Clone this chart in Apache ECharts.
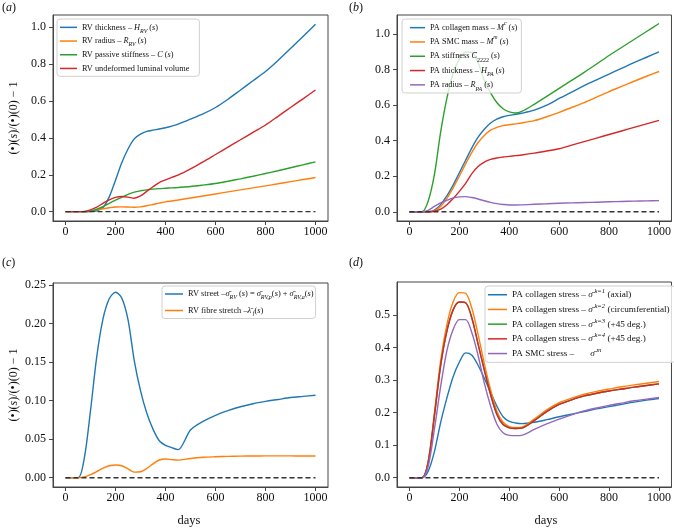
<!DOCTYPE html>
<html><head><meta charset="utf-8">
<script src="https://cdn.jsdelivr.net/npm/echarts@6/dist/echarts.min.js"></script>
<style>html,body{margin:0;padding:0;background:#fff}#c{width:674px;height:529px}</style>
</head><body><div id="c"></div>
<script>
// ---------- data ----------
const days = [0,50,75,100,125,150,175,200,225,250,275,300,325,350,375,400,425,450,500,550,600,650,700,750,800,850,900,950,1000];
const zeroLineX = [0,1000];
const xTicks = [0,200,400,600,800,1000];
const yTicksA = [0,0.2,0.4,0.6,0.8,1.0];
const yTicksB = [0,0.2,0.4,0.6,0.8,1.0];
const yTicksC = [0,0.05,0.1,0.15,0.2,0.25];
const yTicksD = [0,0.1,0.2,0.3,0.4,0.5];

// (a)
const aThickness = [0,0,0,0.001,0.005,0.022,0.08,0.17,0.265,0.34,0.395,0.42,0.435,0.442,0.448,0.455,0.464,0.475,0.502,0.53,0.565,0.61,0.66,0.71,0.76,0.82,0.885,0.95,1.016];
const aRadius    = [0,0,0,0.003,0.01,0.016,0.021,0.025,0.026,0.025,0.024,0.026,0.032,0.039,0.046,0.053,0.058,0.063,0.074,0.085,0.096,0.107,0.118,0.129,0.14,0.151,0.163,0.174,0.185];
const aStiffness = [0,0,0,0.003,0.013,0.027,0.045,0.062,0.078,0.094,0.106,0.113,0.118,0.122,0.125,0.127,0.129,0.131,0.136,0.144,0.153,0.165,0.178,0.192,0.207,0.222,0.238,0.254,0.27];
const aVolume    = [0,0,0.001,0.01,0.025,0.045,0.064,0.077,0.082,0.079,0.073,0.085,0.11,0.135,0.158,0.172,0.186,0.198,0.232,0.27,0.31,0.35,0.39,0.43,0.47,0.517,0.565,0.612,0.66];
// (b)
const bCollagen  = [0,0,0.001,0.01,0.04,0.09,0.15,0.22,0.29,0.36,0.42,0.465,0.5,0.522,0.535,0.543,0.549,0.555,0.572,0.6,0.638,0.674,0.71,0.743,0.775,0.808,0.84,0.87,0.9];
const bSMC       = [0,0,0,0.005,0.03,0.075,0.135,0.2,0.27,0.335,0.39,0.43,0.46,0.475,0.485,0.49,0.495,0.5,0.513,0.535,0.56,0.587,0.615,0.646,0.677,0.706,0.735,0.763,0.79];
const bStiffness = [0,0,0.06,0.21,0.45,0.64,0.78,0.86,0.9,0.898,0.84,0.74,0.67,0.615,0.58,0.562,0.556,0.565,0.605,0.65,0.695,0.74,0.785,0.832,0.88,0.925,0.97,1.015,1.06];
const bThickness = [0,0,0,0.003,0.015,0.04,0.075,0.115,0.16,0.215,0.255,0.28,0.295,0.303,0.308,0.312,0.316,0.32,0.33,0.342,0.355,0.375,0.395,0.415,0.435,0.455,0.475,0.495,0.515];
const bRadius    = [0,0,0.008,0.03,0.05,0.065,0.078,0.084,0.085,0.08,0.072,0.062,0.053,0.046,0.041,0.038,0.038,0.039,0.042,0.045,0.048,0.05,0.052,0.054,0.056,0.058,0.06,0.0615,0.063];
// (c)
const cStress    = [0,0,0.025,0.087,0.157,0.206,0.232,0.2405,0.233,0.205,0.152,0.113,0.084,0.063,0.048,0.042,0.039,0.0365,0.062,0.073,0.081,0.087,0.092,0.096,0.099,0.1015,0.104,0.1055,0.107];
const cStretch   = [0,0,0.001,0.004,0.008,0.0125,0.0155,0.0165,0.0155,0.0115,0.0073,0.0078,0.012,0.018,0.023,0.0243,0.0235,0.0228,0.025,0.0265,0.0272,0.0277,0.028,0.0282,0.0283,0.0283,0.0283,0.0282,0.0282];
// (d)
const dK1        = [0,0,0.02,0.08,0.17,0.245,0.31,0.355,0.383,0.376,0.345,0.305,0.262,0.22,0.187,0.173,0.168,0.166,0.17,0.178,0.187,0.195,0.203,0.211,0.218,0.225,0.232,0.238,0.243];
const dK2        = [0,0,0.05,0.2,0.36,0.47,0.54,0.568,0.566,0.52,0.44,0.35,0.27,0.205,0.17,0.157,0.154,0.155,0.18,0.208,0.23,0.244,0.256,0.265,0.272,0.279,0.285,0.29,0.295];
const dK3        = [0,0,0.048,0.19,0.345,0.45,0.515,0.539,0.537,0.49,0.41,0.33,0.255,0.195,0.163,0.153,0.151,0.152,0.175,0.203,0.225,0.239,0.251,0.259,0.266,0.272,0.278,0.283,0.288];
const dK4        = [0,0,0.048,0.19,0.345,0.45,0.515,0.539,0.537,0.49,0.41,0.33,0.255,0.195,0.163,0.153,0.151,0.152,0.175,0.203,0.225,0.239,0.251,0.259,0.266,0.272,0.278,0.283,0.288];
const dSMC       = [0,0,0.035,0.15,0.28,0.39,0.455,0.485,0.485,0.445,0.375,0.29,0.22,0.165,0.138,0.13,0.129,0.13,0.148,0.165,0.18,0.193,0.205,0.214,0.222,0.229,0.236,0.241,0.246];

// ---------- style ----------
const SERIF = '"Liberation Serif","DejaVu Serif",serif';
const TXT = '#111';
const AX = '#444';
const COL = {blue:'#1f77b4', orange:'#ff7f0e', green:'#2ca02c', red:'#d62728', purple:'#9467bd'};
const OB = 'σ\u0304', LB = 'λ\u0304', CB = 'C\u0304';

function richFor(fs, lh){
  return {
    i:{fontStyle:'italic', fontSize:fs, fontFamily:SERIF, color:TXT, lineHeight:lh},
    n:{fontSize:fs, fontFamily:SERIF, color:TXT, lineHeight:lh},
    sub:{fontStyle:'italic', fontSize:fs*0.72, fontFamily:SERIF, color:TXT, lineHeight:fs*0.95, verticalAlign:'bottom'},
    subn:{fontSize:fs*0.72, fontFamily:SERIF, color:TXT, lineHeight:fs*0.95, verticalAlign:'bottom'},
    sup:{fontStyle:'italic', fontSize:fs*0.72, fontFamily:SERIF, color:TXT, lineHeight:fs*0.95, verticalAlign:'top'}
  };
}

const labels = {
  'aT':'RV thickness – {i|H}{sub|RV} ({i|s})',
  'aR':'RV radius – {i|R}{sub|RV} ({i|s})',
  'aC':'RV passive stiffness – {i|C} ({i|s})',
  'aV':'RV undeformed luminal volume',
  'bM':'PA collagen mass – {i|M}{sup|c} ({i|s})',
  'bS':'PA SMC mass – {i|M}{sup|m} ({i|s})',
  'bC':'PA stiffness {i|'+CB+'}{subn|2222} ({i|s})',
  'bH':'PA thickness – {i|H}{sub|PA} ({i|s})',
  'bR':'PA radius – {i|R}{sub|PA} ({i|s})',
  'cS':'RV street –{i|'+OB+'}{sub|RV} ({i|s}) = {i|'+OB+'}{sub|RV,p}({i|s}) + {i|'+OB+'}{sub|RV,a}({i|s})',
  'cL':'RV fibre stretch –{i|'+LB+'}{sub| f}({i|s})',
  'd1':'PA collagen stress – {i|'+OB+'}{sup| k=1} (axial)',
  'd2':'PA collagen stress – {i|'+OB+'}{sup| k=2} (circumferential)',
  'd3':'PA collagen stress – {i|'+OB+'}{sup| k=3} (+45 deg.)',
  'd4':'PA collagen stress – {i|'+OB+'}{sup| k=4} (+45 deg.)',
  'd5':'PA SMC stress –       {i|'+OB+'}{sup| m}'
};

function line(name, vals, color, gi){
  return {type:'line', name, xAxisIndex:gi, yAxisIndex:gi,
    data: days.map((d,k)=>[d, vals[k]]), symbol:'none', showSymbol:false,
    smooth:0.3, lineStyle:{width:1.4, color}, itemStyle:{color}, z:2, silent:true};
}
function zero(gi){
  return {type:'line', name:'zero'+gi, xAxisIndex:gi, yAxisIndex:gi,
    data: zeroLineX.map(d=>[d,0]), symbol:'none', showSymbol:false,
    lineStyle:{width:1.4, color:'#333', type:[5,3]}, z:3, silent:true};
}

const grids = [
  {left:53, top:15, width:275, height:206},
  {left:397, top:15, width:276, height:206},
  {left:53, top:283, width:275, height:204},
  {left:397, top:282, width:276, height:205}
];
const yRanges = [[-0.0508,1.0668],[-0.052,1.108],[-0.012,0.2525],[-0.0286,0.6006]];
const yTicks = [yTicksA, yTicksB, yTicksC, yTicksD];
const yDec = [1,1,2,1];

const xAxes = grids.map((g,i)=>({
  type:'value', gridIndex:i, min:-50, max:1050,
  axisLine:{show:true, onZero:false, lineStyle:{color:AX, width:1}},
  axisTick:{show:true, customValues:xTicks, length:4, lineStyle:{color:AX}},
  axisLabel:{customValues:xTicks, fontFamily:SERIF, fontSize:12, color:TXT, margin:5,
    formatter:v=>String(Math.round(v))},
  splitLine:{show:false}
}));
const yAxes = grids.map((g,i)=>({
  type:'value', gridIndex:i, min:yRanges[i][0], max:yRanges[i][1],
  axisLine:{show:true, onZero:false, lineStyle:{color:AX, width:1}},
  axisTick:{show:true, customValues:yTicks[i], length:4, lineStyle:{color:AX}},
  axisLabel:{customValues:yTicks[i], fontFamily:SERIF, fontSize:12, color:TXT, margin:7,
    formatter:v=>Number(v).toFixed(yDec[i])},
  splitLine:{show:false}
}));

const legBase = {orient:'vertical', selectedMode:false, icon:'rect', itemHeight:1.5,
  backgroundColor:'rgba(255,255,255,0.8)', borderColor:'#d0d0d0', borderWidth:1, borderRadius:3,
  formatter:n=>labels[n]};
function leg(data, left, top, fs, lh, gap, pad, iw){
  return Object.assign({}, legBase, {data, left, top, itemGap:gap, padding:pad, itemWidth:iw,
    textStyle:{fontFamily:SERIF, fontSize:fs, lineHeight:lh, color:TXT, rich:richFor(fs,lh)}});
}

const series = [
  line('aT', aThickness, COL.blue, 0),
  line('aR', aRadius, COL.orange, 0),
  line('aC', aStiffness, COL.green, 0),
  line('aV', aVolume, COL.red, 0),
  zero(0),
  line('bM', bCollagen, COL.blue, 1),
  line('bS', bSMC, COL.orange, 1),
  line('bC', bStiffness, COL.green, 1),
  line('bH', bThickness, COL.red, 1),
  line('bR', bRadius, COL.purple, 1),
  zero(1),
  line('cS', cStress, COL.blue, 2),
  line('cL', cStretch, COL.orange, 2),
  zero(2),
  line('d1', dK1, COL.blue, 3),
  line('d2', dK2, COL.orange, 3),
  line('d3', dK3, COL.green, 3),
  line('d4', dK4, COL.red, 3),
  line('d5', dSMC, COL.purple, 3),
  zero(3)
];

const yLab = '(•)({i|s})/(•)(0) − 1';
const tRich = richFor(12, 14);
const graphic = [
  {type:'text', left:2, top:2, style:{text:'({i|a})', font:'12px '+SERIF, fill:TXT, rich:tRich}},
  {type:'text', left:349, top:2, style:{text:'({i|b})', font:'12px '+SERIF, fill:TXT, rich:tRich}},
  {type:'text', left:2, top:257, style:{text:'({i|c})', font:'12px '+SERIF, fill:TXT, rich:tRich}},
  {type:'text', left:349, top:257, style:{text:'({i|d})', font:'12px '+SERIF, fill:TXT, rich:tRich}},
  {type:'text', x:14, y:118, rotation:Math.PI/2, style:{text:yLab, font:'12px '+SERIF, fill:TXT, align:'center', verticalAlign:'middle', rich:tRich}},
  {type:'text', x:14, y:385, rotation:Math.PI/2, style:{text:yLab, font:'12px '+SERIF, fill:TXT, align:'center', verticalAlign:'middle', rich:tRich}},
  {type:'text', x:189, y:521, style:{text:'days', font:'12.5px '+SERIF, fill:TXT, align:'center', verticalAlign:'middle'}},
  {type:'text', x:546, y:521, style:{text:'days', font:'12.5px '+SERIF, fill:TXT, align:'center', verticalAlign:'middle'}}
];

const option = {
  animation:false,
  backgroundColor:'#fff',
  grid: grids.map(g=>Object.assign({show:true, borderColor:AX, borderWidth:1, backgroundColor:'transparent'}, g)),
  xAxis: xAxes,
  yAxis: yAxes,
  legend: [
    leg(['aT','aR','aC','aV'], 57, 19, 8.3, 13.7, 0, [1.5,10,1,3], 17),
    leg(['bM','bS','bC','bH','bR'], 402, 19, 8.3, 14.3, 0, [1.5,4,1,8], 15),
    leg(['cS','cL'], 162, 286, 8.4, 12, 4.5, [2,2,2,3], 18),
    leg(['d1','d2','d3','d4','d5'], 485, 286, 9.2, 13.5, 1.2, [2,6,2,3], 19)
  ],
  graphic,
  series
};
const chart = echarts.init(document.getElementById('c'), null, {renderer:'canvas'});
chart.setOption(option);
</script>
</body></html>
